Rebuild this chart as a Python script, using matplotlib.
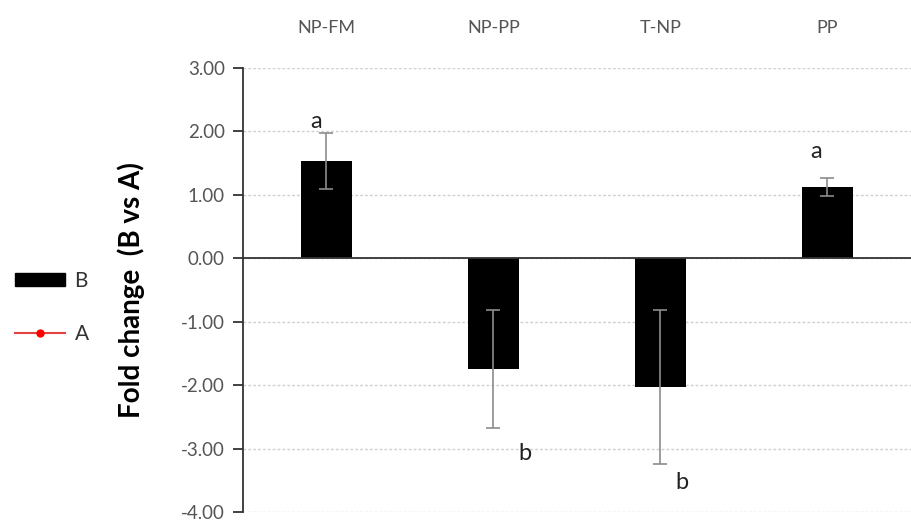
import matplotlib.pyplot as plt
from matplotlib.lines import Line2D
from matplotlib.patches import Patch

# data
categories = ['NP-FM', 'NP-PP', 'T-NP', 'PP']
fold_change = [1.54, -1.75, -2.03, 1.12]
errors = [0.44, 0.93, 1.21, 0.14]
letters = ['a', 'b', 'b', 'a']
yticks = [3, 2, 1, 0, -1, -2, -3, -4]

plt.rcParams['font.family'] = ['Lato', 'DejaVu Sans']

fig = plt.figure(figsize=(9.11, 5.24), dpi=100)
ax = fig.add_axes([0.2667, 0.0229, 0.7333, 0.8473])

x = list(range(len(categories)))
ax.bar(x, fold_change, width=0.31, color='black', zorder=2)
ax.errorbar(x, fold_change, yerr=errors, fmt='none', ecolor='#8c8c8c',
            elinewidth=1.2, capsize=5, capthick=1.2, zorder=3)

# significance letters
offsets = [(-0.06, 0.18), (0.19, -0.40), (0.13, -0.30), (-0.07, 0.42)]
for i, (v, e, l) in enumerate(zip(fold_change, errors, letters)):
    dx, dy = offsets[i]
    y = v + e + dy if v > 0 else v - e + dy
    ax.text(i + dx, y, l, ha='center', va='center', fontsize=17, color='#222222')

ax.axhline(0, color='#333333', lw=1.3, zorder=2)

ax.set_xlim(-0.5, len(categories) - 0.5)
ax.set_ylim(-4, 3)
ax.set_yticks(yticks)
ax.set_yticklabels([f'{t:.2f}' for t in yticks])
ax.yaxis.grid(True, linestyle=(0, (2, 1.5)), color='#d0d0d0', lw=1)
ax.set_axisbelow(True)

ax.set_xticks(x)
ax.set_xticklabels(categories)
ax.xaxis.set_ticks_position('top')
ax.tick_params(axis='x', length=0, pad=23, labelsize=13, labelcolor='#555555')
ax.tick_params(axis='y', direction='out', length=7, width=1.3, color='#333333',
               labelsize=13.5, labelcolor='#555555', pad=6)

for s in ['top', 'right', 'bottom']:
    ax.spines[s].set_visible(False)
ax.spines['left'].set_color('#333333')
ax.spines['left'].set_linewidth(1.3)

ax.set_ylabel('Fold change  (B vs A)', fontsize=20, fontweight='bold', labelpad=26)

handles = [Patch(facecolor='black', edgecolor='black'),
           Line2D([0], [0], color='#e64040', lw=1.5, marker='o', markersize=5,
                  markerfacecolor='red', markeredgecolor='red')]
fig.legend(handles, ['B', 'A'], loc='center left', bbox_to_anchor=(0.003, 0.413),
           frameon=False, fontsize=15, handlelength=2.4, handleheight=0.6,
           labelspacing=1.6, handletextpad=0.45, borderpad=0.3, borderaxespad=0.3,
           labelcolor='#333333')

fig.savefig('out.png', dpi=100)
